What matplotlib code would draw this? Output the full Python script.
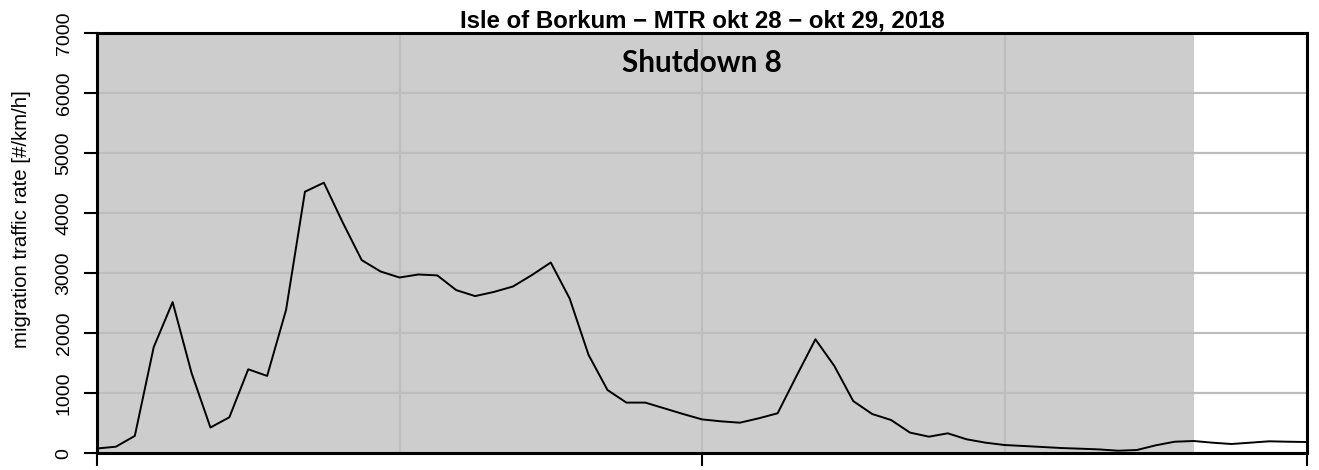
import matplotlib
matplotlib.use("Agg")
import matplotlib.pyplot as plt

# data: 65 equally spaced time steps (index units)
mtr = [80, 110, 290, 1770, 2520, 1340, 430, 600, 1400, 1290,
       2390, 4360, 4510, 3845, 3220, 3030, 2930, 2980, 2965, 2720,
       2620, 2690, 2780, 2970, 3180, 2580, 1640, 1055, 845, 845,
       750, 655, 565, 533, 510, 583, 667, 1290, 1900, 1455,
       870, 655, 555, 345, 277, 333, 233, 177, 138, 122,
       105, 88, 77, 65, 43, 55, 133, 193, 205, 177,
       155, 177, 200, 193, 188]
steps = list(range(len(mtr)))
shutdown_start, shutdown_end = 0, 58
vgrid = [16, 32, 48]
xticks = [0, 32, 64]
yticks = [0, 1000, 2000, 3000, 4000, 5000, 6000, 7000]
title = "Isle of Borkum \u2212 MTR okt 28 \u2212 okt 29, 2018"
ylabel = "migration traffic rate [#/km/h]"
shutdown_label = "Shutdown 8"

fig = plt.figure(figsize=(13.19, 4.70), dpi=100)
ax = fig.add_axes([97/1319, 1 - 453.3/470, (1307-97)/1319, (453.3-33.3)/470])

ax.axvspan(shutdown_start, shutdown_end, color="#cdcdcd", zorder=0, lw=0)
for v in yticks:
    ax.axhline(v, color="#bdbdbd", lw=1.6, zorder=1)
for v in vgrid:
    ax.axvline(v, color="#bdbdbd", lw=1.6, zorder=1)
ax.plot(steps, mtr, color="black", lw=1.4, zorder=3)

ax.set_xlim(0, 64)
ax.set_ylim(0, 7000)
ax.set_xticks(xticks)
ax.set_xticklabels([])
ax.set_yticks(yticks)
ax.set_yticklabels([str(v) for v in yticks], rotation=90, va="center",
                   fontsize=14, family="Liberation Sans")
ax.tick_params(axis="y", length=9.5, width=1.5, pad=8)
ax.tick_params(axis="x", length=9, width=1.5)
for s in ax.spines.values():
    s.set_linewidth(2.2)

ax.set_ylabel(ylabel, fontsize=14.7, family="Liberation Sans", labelpad=18, y=0.558)
ax.set_title(title, fontsize=17.3, fontweight="bold", family="Liberation Sans", pad=4.5)
ax.text(32, 6500, shutdown_label, ha="center", va="center", fontsize=21.4,
        fontweight="bold", family="Lato", zorder=4)

fig.savefig("out.png", dpi=100)
